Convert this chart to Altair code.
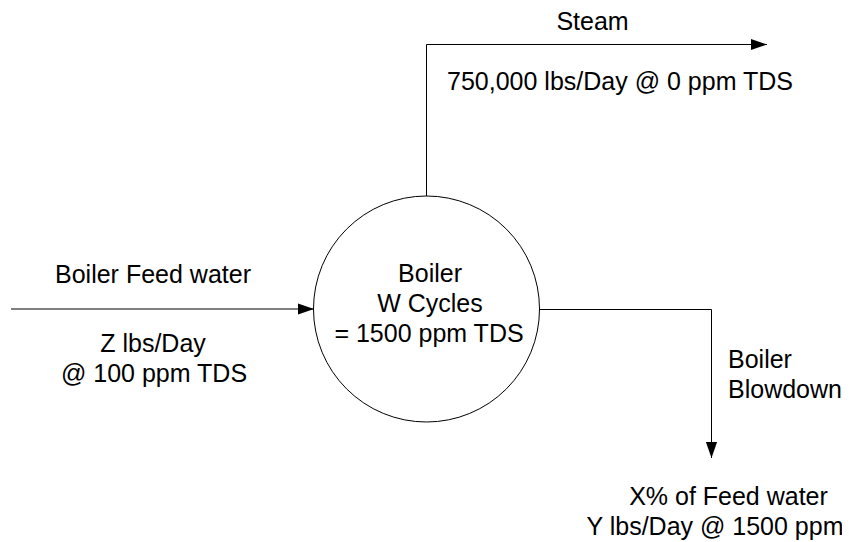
import altair as alt
import pandas as pd

# ---- diagram layout (pixel coordinates of the drawing) ----
# flow segments
seg_x1 = [11, 426.5, 426.5, 539.5, 711.5]
seg_y1 = [309, 196, 44.5, 309.5, 309.5]
seg_x2 = [314, 426.5, 767, 711.5, 711.5]
seg_y2 = [309, 44.5, 44.5, 309.5, 458]

# arrow tips
right_tip_x = [314, 767]
right_tip_y = [309, 44.5]
down_tip_x = [711.5]
down_tip_y = [458]

# boiler node
node_x = [426.5]
node_y = [309]

# centred labels
center_labels = [
    "Steam",
    "750,000 lbs/Day @ 0 ppm TDS",
    "Boiler Feed water",
    "Z lbs/Day",
    "@ 100 ppm TDS",
    "Boiler",
    "W Cycles",
    "= 1500 ppm TDS",
    "X% of Feed water",
    "Y lbs/Day @ 1500 ppm",
]
center_x = [592.5, 620, 153, 153, 154, 430, 430, 429, 728.5, 715]
center_y = [30, 90, 283, 352, 382, 282, 312, 342, 505, 535]

# left-aligned labels
left_labels = ["Boiler", "Blowdown"]
left_x = [728, 728]
left_y = [368, 398]

W, H = 834, 534
xs = alt.Scale(domain=[8, 8 + W], nice=False, zero=False)
ys = alt.Scale(domain=[8 + H, 8], nice=False, zero=False)

seg_df = pd.DataFrame({"x": seg_x1, "y": seg_y1, "x2": seg_x2, "y2": seg_y2})
rt_df = pd.DataFrame({"x": right_tip_x, "y": right_tip_y})
dn_df = pd.DataFrame({"x": down_tip_x, "y": down_tip_y})
node_df = pd.DataFrame({"x": node_x, "y": node_y})
ct_df = pd.DataFrame({"x": center_x, "y": center_y, "t": center_labels})
lt_df = pd.DataFrame({"x": left_x, "y": left_y, "t": left_labels})

X = lambda: alt.X("x:Q", scale=xs, axis=None)
Y = lambda: alt.Y("y:Q", scale=ys, axis=None)

segs = alt.Chart(seg_df).mark_rule(color="#000", strokeWidth=1).encode(
    x=X(), y=Y(), x2="x2:Q", y2="y2:Q"
)

node = alt.Chart(node_df).mark_point(
    shape="circle", filled=False, size=226 * 226, color="#000",
    strokeWidth=1, opacity=1
).encode(x=X(), y=Y())

right_arrows = alt.Chart(rt_df).mark_point(
    shape="M0,0L-2,-0.7L-2,0.7Z", filled=True, size=256, color="#000", opacity=1
).encode(x=X(), y=Y())

down_arrows = alt.Chart(dn_df).mark_point(
    shape="M0,0L-0.7,-2L0.7,-2Z", filled=True, size=256, color="#000", opacity=1
).encode(x=X(), y=Y())

ctext = alt.Chart(ct_df).mark_text(
    font="Liberation Sans", fontSize=25, align="center", baseline="alphabetic",
    color="#000"
).encode(x=X(), y=Y(), text="t:N")

ltext = alt.Chart(lt_df).mark_text(
    font="Liberation Sans", fontSize=25, align="left", baseline="alphabetic",
    color="#000"
).encode(x=X(), y=Y(), text="t:N")

chart = alt.layer(segs, node, right_arrows, down_arrows, ctext, ltext).properties(
    width=W, height=H, padding=0, autosize="none"
).configure_view(stroke=None)

chart.save("out.html", embed_options={"renderer": "svg", "actions": False})
